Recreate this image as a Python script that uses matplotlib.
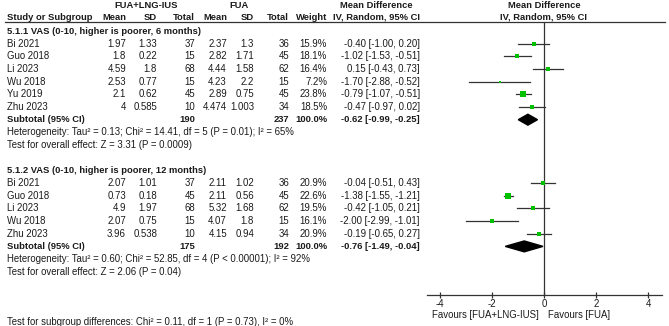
import matplotlib
matplotlib.use("Agg")
import matplotlib.pyplot as plt
from matplotlib.patches import Polygon

plt.rcParams['font.family'] = ['Liberation Sans', 'DejaVu Sans']

# ---------------- data ----------------
studies1 = ["Bi 2021", "Guo 2018", "Li 2023", "Wu 2018", "Yu 2019", "Zhu 2023"]
mean_e1 = [1.97, 1.8, 4.59, 2.53, 2.1, 4]
sd_e1 = [1.33, 0.22, 1.8, 0.77, 0.62, 0.585]
n_e1 = [37, 15, 68, 15, 45, 10]
mean_c1 = [2.37, 2.82, 4.44, 4.23, 2.89, 4.474]
sd_c1 = [1.3, 1.71, 1.58, 2.2, 0.75, 1.003]
n_c1 = [36, 45, 62, 15, 45, 34]
weight1 = [15.9, 18.1, 16.4, 7.2, 23.8, 18.5]
md1 = [-0.40, -1.02, 0.15, -1.70, -0.79, -0.47]
lo1 = [-1.00, -1.53, -0.43, -2.88, -1.07, -0.97]
hi1 = [0.20, -0.51, 0.73, -0.52, -0.51, 0.02]
sub1 = dict(ne=190, nc=237, md=-0.62, lo=-0.99, hi=-0.25)
het1 = "Heterogeneity: Tau\u00b2 = 0.13; Chi\u00b2 = 14.41, df = 5 (P = 0.01); I\u00b2 = 65%"
test1 = "Test for overall effect: Z = 3.31 (P = 0.0009)"

studies2 = ["Bi 2021", "Guo 2018", "Li 2023", "Wu 2018", "Zhu 2023"]
mean_e2 = [2.07, 0.73, 4.9, 2.07, 3.96]
sd_e2 = [1.01, 0.18, 1.97, 0.75, 0.538]
n_e2 = [37, 45, 68, 15, 10]
mean_c2 = [2.11, 2.11, 5.32, 4.07, 4.15]
sd_c2 = [1.02, 0.56, 1.68, 1.8, 0.94]
n_c2 = [36, 45, 62, 15, 34]
weight2 = [20.9, 22.6, 19.5, 16.1, 20.9]
md2 = [-0.04, -1.38, -0.42, -2.00, -0.19]
lo2 = [-0.51, -1.55, -1.05, -2.99, -0.65]
hi2 = [0.43, -1.21, 0.21, -1.01, 0.27]
sub2 = dict(ne=175, nc=192, md=-0.76, lo=-1.49, hi=-0.04)
het2 = "Heterogeneity: Tau\u00b2 = 0.60; Chi\u00b2 = 52.85, df = 4 (P < 0.00001); I\u00b2 = 92%"
test2 = "Test for overall effect: Z = 2.06 (P = 0.04)"

group_titles = ["5.1.1 VAS (0-10, higher is poorer, 6 months)",
                "5.1.2 VAS (0-10, higher is poorer, 12 months)"]
subgroup_test = "Test for subgroup differences: Chi\u00b2 = 0.11, df = 1 (P = 0.73), I\u00b2 = 0%"
xticks = [-4, -2, 0, 2, 4]
fav_left = "Favours [FUA+LNG-IUS]"
fav_right = "Favours [FUA]"

# ---------------- layout ----------------
W, H = 669, 326
Y0, DY = 31.0, 12.67          # pixel y of row 0 and row pitch
def px2r(p):
    return (p - Y0) / DY

FS = 6.9
FSB = 6.75
TXT = '#1a1a1a'
GREEN = '#00c000'
LINE = '#333333'

fig = plt.figure(figsize=(W / 100, H / 100), dpi=100)
tax = fig.add_axes([0, 0, 1, 1])
tax.set_xlim(0, W)
tax.set_ylim(px2r(H), px2r(0))
tax.axis('off')

# forest axes
fx_left_px, fx_right_px = 427, 662
top_px, axis_px = 22, 295
fax = fig.add_axes([fx_left_px / W, 1 - axis_px / H,
                    (fx_right_px - fx_left_px) / W, (axis_px - top_px) / H])
fax.set_xlim((fx_left_px - 544) / 26.0, (fx_right_px - 544) / 26.0)
fax.set_ylim(px2r(axis_px), px2r(top_px))
fax.patch.set_alpha(0)
for s in ['top', 'left', 'right']:
    fax.spines[s].set_visible(False)
fax.spines['bottom'].set_color(LINE)
fax.spines['bottom'].set_linewidth(0.9)
fax.set_yticks([])
fax.set_xticks(xticks)
fax.set_xticklabels([str(t) for t in xticks])
fax.tick_params(axis='x', direction='inout', length=5, width=0.9, color=LINE,
                labelsize=FS, pad=0.3, labelcolor=TXT)
fax.axvline(0, color=LINE, lw=0.9)

def T(x, r, s, ha='left', bold=False, **kw):
    tax.text(x, r, s, ha=ha, va='center', fontsize=FSB if bold else FS, color=TXT,
             fontweight='bold' if bold else 'normal', **kw)

# header
rh1, rh2 = px2r(5), px2r(17)
T(146, rh1, "FUA+LNG-IUS", ha='center', bold=True)
T(239, rh1, "FUA", ha='center', bold=True)
T(376, rh1, "Mean Difference", ha='center', bold=True)
T(544, rh1, "Mean Difference", ha='center', bold=True)
T(7, rh2, "Study or Subgroup", bold=True)
col_x = [126, 157, 195, 227, 254, 289, 327, 420]
for x, s in zip(col_x, ["Mean", "SD", "Total", "Mean", "SD", "Total", "Weight",
                        "IV, Random, 95% CI"]):
    T(x, rh2, s, ha='right', bold=True)
T(544, rh2, "IV, Random, 95% CI", ha='center', bold=True)
tax.plot([5, 665], [px2r(top_px)] * 2, color=LINE, lw=0.9)

def fmt_ci(m, l, h):
    return f"{m:.2f} [{l:.2f}, {h:.2f}]"

def draw_group(r0, title, studies, me, se, ne, mc, sc, nc, w, md, lo, hi, sub, het, test):
    T(7, r0, title, bold=True)
    for i, st in enumerate(studies):
        r = r0 + 1 + i
        T(7, r, st)
        vals = [f"{me[i]:g}", f"{se[i]:g}", f"{ne[i]}", f"{mc[i]:g}", f"{sc[i]:g}",
                f"{nc[i]}", f"{w[i]:.1f}%", fmt_ci(md[i], lo[i], hi[i])]
        for x, s in zip(col_x, vals):
            T(x, r, s, ha='right')
        fax.plot([lo[i], hi[i]], [r, r], color=LINE, lw=0.9, zorder=2)
        fax.plot([md[i]], [r], marker='s', ms=0.78 * w[i] ** 0.5, color=GREEN,
                 mec=GREEN, mew=0, zorder=3)
    rs = r0 + 1 + len(studies)
    T(7, rs, "Subtotal (95% CI)", bold=True)
    for x, s in zip([195, 289, 327, 420],
                    [str(sub['ne']), str(sub['nc']), "100.0%",
                     fmt_ci(sub['md'], sub['lo'], sub['hi'])]):
        T(x, rs, s, ha='right', bold=True)
    hh = 0.43
    fax.add_patch(Polygon([[sub['lo'], rs], [sub['md'], rs - hh], [sub['hi'], rs],
                           [sub['md'], rs + hh]], closed=True, color='black', zorder=3))
    T(7, rs + 1, het)
    T(7, rs + 2, test)

draw_group(0, group_titles[0], studies1, mean_e1, sd_e1, n_e1, mean_c1, sd_c1, n_c1,
           weight1, md1, lo1, hi1, sub1, het1, test1)
draw_group(11, group_titles[1], studies2, mean_e2, sd_e2, n_e2, mean_c2, sd_c2, n_c2,
           weight2, md2, lo2, hi2, sub2, het2, test2)

T(7, px2r(322), subgroup_test)
T(539, px2r(315.5), fav_left, ha='right')
T(548, px2r(315.5), fav_right, ha='left')

fig.savefig("out.png", dpi=100)
